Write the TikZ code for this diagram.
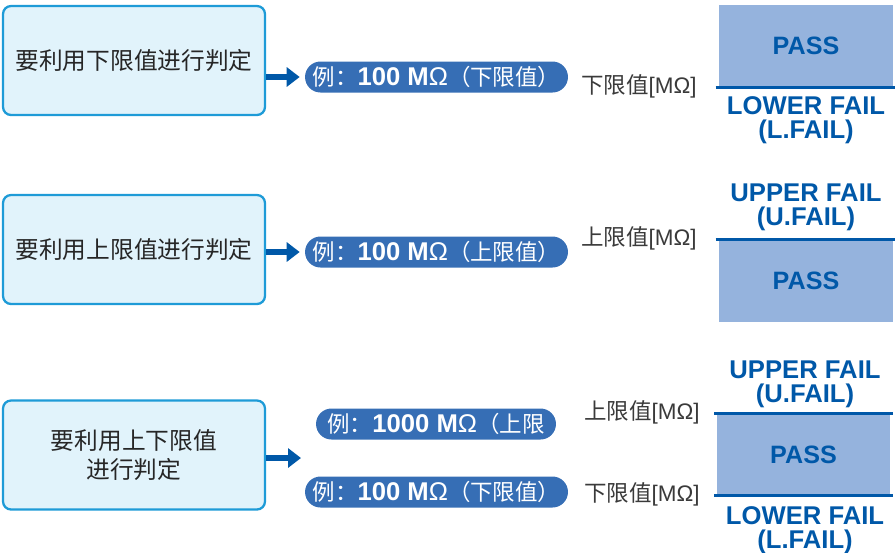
\documentclass[tikz,border=0pt]{standalone}
\usepackage{fontspec}
\setmainfont{Liberation Sans}
\newfontfamily\cjk{Noto Sans CJK SC}
\usetikzlibrary{arrows.meta, positioning}

\definecolor{boxfill}{HTML}{E1F3FB}
\definecolor{boxline}{HTML}{1E9BD7}
\definecolor{darkblue}{HTML}{0058A8}
\definecolor{pillblue}{HTML}{366EB5}
\definecolor{passblue}{HTML}{95B3DD}
\definecolor{labelgray}{HTML}{3A3A3A}

\newcommand{\exval}[1]{{\normalfont\fontsize{14.6}{15}\selectfont{\bfseries #1 M}Ω}}

\begin{document}
\begin{tikzpicture}[
    x=0.02cm, y=-0.02cm,
    case/.style={rectangle, draw=boxline, line width=1.3pt, fill=boxfill, rounded corners=0.16cm, minimum width=5.24cm, minimum height=2.18cm, align=center, font=\cjk\fontsize{13.5}{16}\selectfont, text=black!85},
    pill/.style={rectangle, fill=pillblue, rounded corners=0.31cm, minimum width=5.26cm, minimum height=0.62cm, inner sep=0pt, text=white, font=\cjk\fontsize{12.8}{15}\selectfont},
    pass/.style={rectangle, fill=passblue, minimum width=3.48cm, minimum height=1.64cm, inner sep=0pt, text=darkblue, font=\bfseries\fontsize{14.3}{14}\selectfont},
    fail/.style={align=center, text=darkblue, inner sep=0pt, font=\bfseries\fontsize{14.6}{13.6}\selectfont},
    limit/.style={draw=darkblue, line width=1.7pt},
    unit/.style={anchor=east, inner sep=0pt, text=labelgray, font=\fontsize{12.8}{14}\selectfont},
    flow/.style={draw=darkblue, line width=3.2pt, -{Triangle[length=0.26cm, width=0.38cm]}}
]
\useasboundingbox (0,0) rectangle (895,552);

% Cases
\node[case] (LowerCase) at (134,60.5) {要利用下限值进行判定};
\node[case] (UpperCase) at (134,249.5) {要利用上限值进行判定};
\node[case] (BothCase) at (134,455) {要利用上下限值\\[1pt]进行判定};

% Examples
\node[pill] (LowerEx) at (436.5,77) {例：\exval{100}（下限值）};
\node[pill] (UpperEx) at (436.5,252) {例：\exval{100}（上限值）};
\node[pill, minimum width=4.8cm] (BothUpperEx) at (436,424) {例：\exval{1000}（上限};
\node[pill] (BothLowerEx) at (436.5,492) {例：\exval{100}（下限值）};

% Arrows
\coordinate (BothTip) at (301,458);
\draw[flow] (LowerCase.east |- LowerEx) -- ([xshift=-0.1cm]LowerEx.west);
\draw[flow] (UpperCase.east |- UpperEx) -- ([xshift=-0.1cm]UpperEx.west);
\draw[flow] (BothCase.east |- BothTip) -- (BothTip);

% Lower limit only
\node[pass] (LowerPass) at (806,46) {PASS};
\draw[limit] ([xshift=-0.06cm]LowerPass.south west) -- ([xshift=0.04cm]LowerPass.south east);
\node[fail] (LowerFail) at (806,120) {LOWER FAIL\\(L.FAIL)};
\node[unit] (LowerUnit) at (697,86) {{\cjk 下限值}[MΩ]};

% Upper limit only
\node[pass] (UpperPass) at (806,280.5) {PASS};
\draw[limit] ([xshift=-0.06cm]UpperPass.north west) -- ([xshift=0.04cm]UpperPass.north east);
\node[fail] (UpperFail) at (806,207) {UPPER FAIL\\(U.FAIL)};
\node[unit] (UpperUnit) at (697,238) {{\cjk 上限值}[MΩ]};

% Both limits
\node[pass] (BothPass) at (803.5,454.5) {PASS};
\draw[limit] ([xshift=-0.04cm]BothPass.north west) -- ([xshift=0.04cm]BothPass.north east);
\draw[limit] ([xshift=-0.04cm]BothPass.south west) -- ([xshift=0.04cm]BothPass.south east);
\node[fail] (BothUpperFail) at (805,384) {UPPER FAIL\\(U.FAIL)};
\node[fail] (BothLowerFail) at (805,530) {LOWER FAIL\\(L.FAIL)};
\node[unit] (BothUpperUnit) at (700,412) {{\cjk 上限值}[MΩ]};
\node[unit] (BothLowerUnit) at (700,494) {{\cjk 下限值}[MΩ]};

\end{tikzpicture}
\end{document}
